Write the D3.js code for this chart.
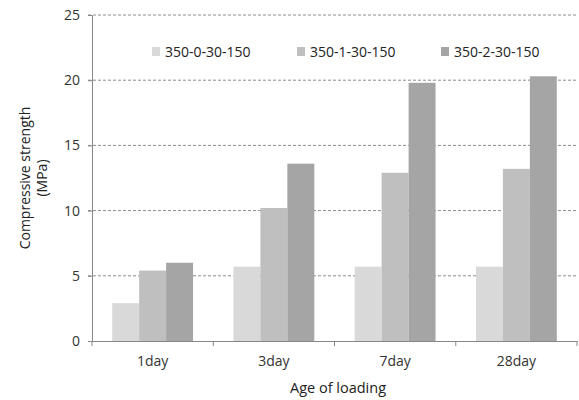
<!DOCTYPE html>
<html><head><meta charset="utf-8">
<script src="https://cdn.jsdelivr.net/npm/d3@7"></script>
<style>body{margin:0;background:#fff}svg{display:block;font-family:"Open Sans",sans-serif}</style>
</head><body><svg id="c" width="579" height="400"></svg>
<script>
const categories = ["1day","3day","7day","28day"];
const seriesNames = ["350-0-30-150","350-1-30-150","350-2-30-150"];
const s0 = [2.9, 5.7, 5.7, 5.7];
const s1 = [5.4, 10.2, 12.9, 13.2];
const s2 = [6.0, 13.6, 19.8, 20.3];
const yTicks = [0,5,10,15,20,25];
const colors = ["#d9d9d9","#bfbfbf","#a5a5a5"];
const series = [s0,s1,s2];

const svg = d3.select("#c");
const L=92, R=577, T=15, B=341;
const FS = 14;
const x0 = d3.scaleBand().domain(categories).range([L,R]).padding(0);
const x1 = d3.scaleBand().domain(d3.range(3)).range([x0.bandwidth()/6, x0.bandwidth()*5/6]).padding(0);
const y = d3.scaleLinear().domain([0,25]).range([B,T]);

// gridlines
svg.append("g").selectAll("line").data(yTicks.filter(d=>d>0)).join("line")
  .attr("x1",L-4).attr("x2",R).attr("y1",d=>y(d)).attr("y2",d=>y(d))
  .attr("stroke","#8c8c8c").attr("stroke-width",1).attr("stroke-dasharray","3,2");

// bars
const g = svg.append("g");
categories.forEach((c,i)=>{
  series.forEach((s,j)=>{
    g.append("rect").attr("x",x0(c)+x1(j)).attr("width",x1.bandwidth())
     .attr("y",y(s[i])).attr("height",B-y(s[i])).attr("fill",colors[j]);
  });
});

// y axis
const ya = svg.append("g").attr("transform",`translate(${L},0)`)
  .call(d3.axisLeft(y).tickValues(yTicks).tickSize(4).tickPadding(8));
ya.select(".domain").attr("stroke","#868686");
ya.selectAll(".tick line").attr("stroke","#868686");
ya.selectAll("text").attr("font-size",FS).attr("fill","#333").attr("font-family","Open Sans, sans-serif");

// x axis
const xa = svg.append("g").attr("transform",`translate(0,${B})`)
  .call(d3.axisBottom(x0).tickSize(0).tickPadding(15));
xa.select(".domain").attr("stroke","#868686");
xa.selectAll("text").attr("font-size",FS).attr("fill","#333").attr("font-family","Open Sans, sans-serif");
svg.append("g").selectAll("line").data(d3.range(categories.length+1)).join("line")
  .attr("x1",d=>L+d*x0.step()).attr("x2",d=>L+d*x0.step())
  .attr("y1",B).attr("y2",B+5).attr("stroke","#868686");

// axis titles
svg.append("text").attr("x",338).attr("y",393).attr("text-anchor","middle")
  .attr("font-size",FS+0.5).attr("fill","#222").text("Age of loading");
const yt = svg.append("text").attr("transform","translate(0,178) rotate(-90)")
  .attr("text-anchor","middle").attr("font-size",FS).attr("fill","#222");
yt.append("tspan").attr("x",0).attr("y",30).text("Compressive strength");
yt.append("tspan").attr("x",0).attr("y",47).text("(MPa)");

// legend
const legX = [152, 297, 441];
seriesNames.forEach((n,j)=>{
  svg.append("rect").attr("x",legX[j]).attr("y",47).attr("width",8).attr("height",9).attr("fill",colors[j]);
  svg.append("text").attr("x",legX[j]+13).attr("y",57).attr("font-size",FS).attr("fill","#222").text(n);
});
</script></body></html>
